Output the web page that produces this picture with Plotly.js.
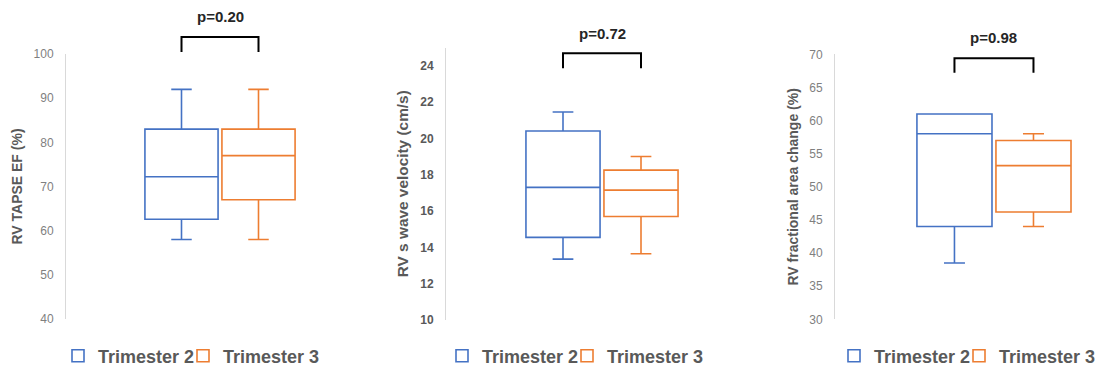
<!DOCTYPE html>
<html>
<head>
<meta charset="utf-8">
<script src="https://cdn.plot.ly/plotly-3.0.1.min.js"></script>
<style>html,body{margin:0;padding:0;background:#fff;}#chart{width:1097px;height:368px;}</style>
</head>
<body>
<div id="chart"></div>
<script>
// ---- data ----
const seriesNames = ["Trimester 2", "Trimester 3"];
const panelTitles = ["RV TAPSE EF (%)", "RV s wave velocity (cm/s)", "RV fractional area change (%)"];
const pLabels = ["p=0.20", "p=0.72", "p=0.98"];

const tapseLower  = [58, 58];
const tapseQ1     = [62.6, 67];
const tapseMedian = [72.2, 77];
const tapseQ3     = [83, 83];
const tapseUpper  = [92, 92];

const swaveLower  = [13.35, 13.65];
const swaveQ1     = [14.55, 15.7];
const swaveMedian = [17.3, 17.15];
const swaveQ3     = [20.4, 18.25];
const swaveUpper  = [21.45, 19.0];

const facLower  = [38.5, 44];
const facQ1     = [44, 46.2];
const facMedian = [58, 53.2];
const facQ3     = [61, 57];
const facUpper  = [61, 58];

const yRanges = [[40, 100], [10, 25], [30, 70]];
const yDticks = [10, 2, 5];

// ---- styling ----
const colors = ["#4472C4", "#ED7D31"];
const FONT = "Liberation Sans, Arial, sans-serif";
const W = 1097, H = 368;

const panels = [
  {lo: tapseLower, q1: tapseQ1, med: tapseMedian, q3: tapseQ3, hi: tapseUpper},
  {lo: swaveLower, q1: swaveQ1, med: swaveMedian, q3: swaveQ3, hi: swaveUpper},
  {lo: facLower, q1: facQ1, med: facMedian, q3: facQ3, hi: facUpper}
];

// pixel layout of each plot area
const xDom = [[66, 374], [446, 758], [835, 1097]];
const yPix = [[54, 319], [47.5, 320], [54.3, 319.3]]; // top, bottom
const xRng = [[-0.5, 0.5], [-0.5, 0.5], [-0.503, 0.326]];
const tickStyle = [
  {size: 12, color: "#7f7f7f", weight: "normal"},
  {size: 12, color: "#595959", weight: "bold"},
  {size: 12, color: "#7f7f7f", weight: "normal"}
];
const titleSize = [14, 15.4, 14];
const legendX = [58, 442, 834];
const bracketY = [[1.064, 1.0075], [0.9787, 0.9237], [0.985, 0.9306]];
const pY = [1.141, 1.053, 1.063];

const boxgap = 0.5;
const off = (1 - boxgap) / 4;

const traces = [];
const layout = {
  width: W, height: H,
  margin: {l: 0, r: 0, t: 0, b: 0, autoexpand: false},
  paper_bgcolor: "#ffffff", plot_bgcolor: "rgba(0,0,0,0)",
  boxmode: "group", boxgap: boxgap, boxgroupgap: 0.05,
  font: {family: FONT, color: "#595959"},
  shapes: [], annotations: []
};

panels.forEach((p, i) => {
  const n = i === 0 ? "" : String(i + 1);
  const legendId = i === 0 ? "legend" : "legend" + (i + 1);
  seriesNames.forEach((name, k) => {
    traces.push({
      type: "box",
      name: name,
      x: [panelTitles[i]],
      q1: [p.q1[k]], median: [p.med[k]], q3: [p.q3[k]],
      lowerfence: [p.lo[k]], upperfence: [p.hi[k]],
      xaxis: "x" + n, yaxis: "y" + n,
      alignmentgroup: "panel" + i, offsetgroup: "series" + k,
      legend: legendId,
      line: {color: colors[k], width: 1.6},
      fillcolor: "rgba(255,255,255,0)",
      whiskerwidth: 0.28,
      boxpoints: false,
      hoverinfo: "skip"
    });
  });
  // invisible spacer entry so the last legend label is not clipped
  traces.push({
    type: "scatter", mode: "lines", name: " ", x: [null], y: [null],
    xaxis: "x" + n, yaxis: "y" + n, legend: legendId,
    line: {width: 0, color: "rgba(0,0,0,0)"}, hoverinfo: "skip"
  });
  layout["xaxis" + n] = {
    domain: [xDom[i][0] / W, xDom[i][1] / W],
    anchor: "y" + n, type: "category", range: xRng[i],
    showticklabels: false, showline: false, showgrid: false, zeroline: false, ticks: ""
  };
  layout["yaxis" + n] = {
    domain: [(H - yPix[i][1]) / H, (H - yPix[i][0]) / H],
    anchor: "x" + n, range: yRanges[i], dtick: yDticks[i], tick0: yRanges[i][0],
    showline: true, linecolor: "#d9d9d9", linewidth: 1,
    showgrid: false, zeroline: false, ticks: "", ticklabelstandoff: 9,
    tickfont: {family: FONT, size: tickStyle[i].size, color: tickStyle[i].color, weight: tickStyle[i].weight},
    title: {text: panelTitles[i], standoff: 7,
            font: {family: FONT, size: titleSize[i], color: "#595959", weight: "bold"}}
  };
  layout[legendId] = {
    orientation: "h", x: legendX[i] / W, xanchor: "left",
    y: (H - 356) / H, yanchor: "middle",
    entrywidth: 80,
    bgcolor: "rgba(0,0,0,0)",
    font: {family: FONT, size: 18, color: "#595959", weight: "bold"}
  };
  // significance bracket
  layout.shapes.push({
    type: "path", xref: "x" + n, yref: "y" + n + " domain",
    path: "M" + (-off) + "," + bracketY[i][1] + " L" + (-off) + "," + bracketY[i][0] +
          " L" + off + "," + bracketY[i][0] + " L" + off + "," + bracketY[i][1],
    line: {color: "#000000", width: 2}
  });
  layout.annotations.push({
    xref: "x" + n, yref: "y" + n + " domain", x: 0, y: pY[i],
    text: pLabels[i], showarrow: false, xanchor: "center", yanchor: "middle",
    font: {family: FONT, size: 15, color: "#262626", weight: "bold"}
  });
});

Plotly.newPlot("chart", traces, layout, {displayModeBar: false, staticPlot: true});
</script>
</body>
</html>
